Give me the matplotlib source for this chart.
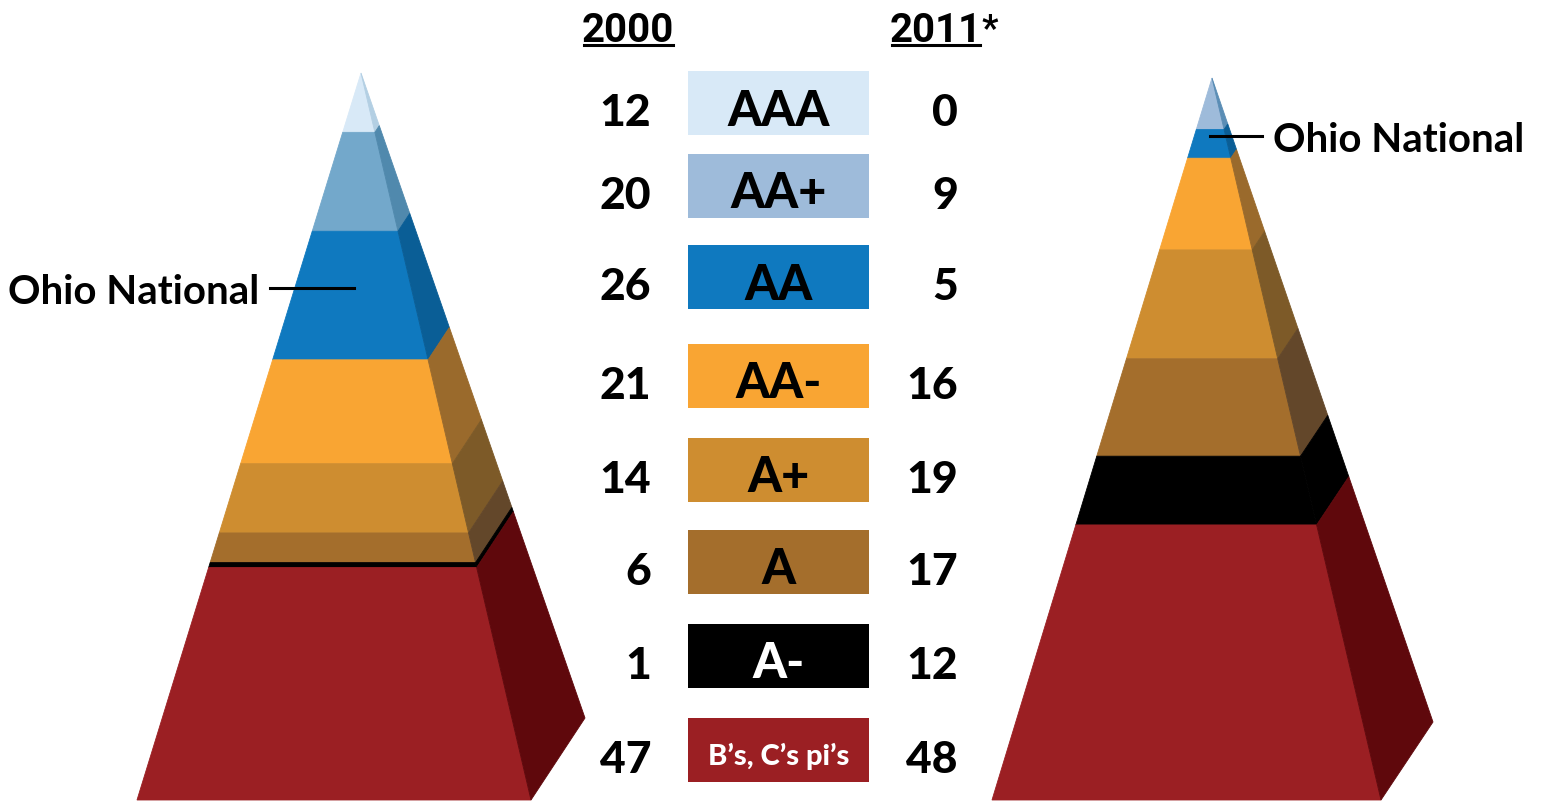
"""
Rating pyramids: distribution of insurer ratings in 2000 vs 2011.
"""

import numpy as np
import matplotlib.pyplot as plt
from matplotlib.patches import Polygon, Rectangle

RATINGS = ["AAA", "AA+", "AA", "AA-", "A+", "A", "A-", "B\u2019s, C\u2019s pi\u2019s"]
COUNTS_2000 = [12, 20, 26, 21, 14, 6, 1, 47]
COUNTS_2011 = [0, 9, 5, 16, 19, 17, 12, 48]

BOX_COLORS = ["#D8E9F7", "#9EBBDA", "#0F79BF", "#F9A533", "#CE8D30", "#A46E2C", "#000000", "#9B1F23"]
FRONT_2000 = ["#D8E9F7", "#73A8CB", "#0F79BF", "#F9A533", "#CE8D30", "#A46E2C", "#000000", "#9B1F23"]
SIDE_2000 = ["#B3CFE3", "#5089AD", "#0A5E96", "#9A6A2C", "#7D5A28", "#63472A", "#000000", "#5F080C"]
FRONT_2011 = ["#D8E9F7", "#9EBBDA", "#0F79BF", "#F9A533", "#CE8D30", "#A46E2C", "#000000", "#9B1F23"]
SIDE_2011 = ["#B3CFE3", "#5A8DB5", "#0A5E96", "#9A6A2C", "#7D5A28", "#63472A", "#000000", "#5F080C"]
LABEL_COLOR = ["black"] * 6 + ["white", "white"]

# layout (pixels)
W, H = 1543, 802
ROW_Y = [103, 186, 277, 376, 470, 562, 656, 750]
BOX_X0, BOX_X1 = 688, 869
BOX_H = 64
FONT = "Lato"


def draw_pyramid(ax, counts, front_colors, side_colors, apex, base_left, base_right, back):
    counts = np.asarray(counts, dtype=float)
    edges = np.concatenate([[0], np.cumsum(counts)]) / counts.sum()
    ax_, ay = apex

    def pt(corner, t):
        return (ax_ + t * (corner[0] - ax_), ay + t * (corner[1] - ay))

    for i in range(len(counts)):
        t0, t1 = edges[i], edges[i + 1]
        if t1 <= t0:
            continue
        front = [pt(base_left, t0), pt(base_right, t0), pt(base_right, t1), pt(base_left, t1)]
        side = [pt(base_right, t0), pt(back, t0), pt(back, t1), pt(base_right, t1)]
        ax.add_patch(Polygon(front, closed=True, fc=front_colors[i], ec=front_colors[i], lw=0.6))
        ax.add_patch(Polygon(side, closed=True, fc=side_colors[i], ec=side_colors[i], lw=0.6))


def main():
    fig = plt.figure(figsize=(W / 100, H / 100), dpi=100)
    ax = fig.add_axes([0, 0, 1, 1])
    ax.set_xlim(0, W)
    ax.set_ylim(H, 0)
    ax.axis("off")

    draw_pyramid(ax, COUNTS_2000, FRONT_2000, SIDE_2000,
                 (361, 73), (137, 800), (531, 800), (585, 718))
    draw_pyramid(ax, COUNTS_2011, FRONT_2011, SIDE_2011,
                 (1212, 78), (992, 800), (1381, 800), (1433, 722))

    # headers
    ax.text(628, 31, "2000", ha="center", va="center", fontsize=29,
            fontweight="bold", family="Roboto")
    ax.plot([584, 673], [45, 45], color="black", lw=2.2)
    ax.text(936, 31, "2011", ha="center", va="center", fontsize=29,
            fontweight="bold", family="Roboto")
    ax.plot([892, 980], [45, 45], color="black", lw=2.2)
    ax.text(981, 30, "*", ha="left", va="center", fontsize=26,
            fontweight="bold", family="Roboto")

    # rating boxes and counts
    for i, name in enumerate(RATINGS):
        y = ROW_Y[i]
        ax.add_patch(Rectangle((BOX_X0, y - BOX_H / 2), BOX_X1 - BOX_X0, BOX_H,
                               fc=BOX_COLORS[i], ec="none"))
        if i == len(RATINGS) - 1:
            ax.text((BOX_X0 + BOX_X1) / 2, y + 6, name, ha="center", va="center",
                    fontsize=21, fontweight=900, color=LABEL_COLOR[i], family=FONT)
        else:
            ax.text((BOX_X0 + BOX_X1) / 2, y + 8, name, ha="center", va="center",
                    fontsize=35, fontweight=900, color=LABEL_COLOR[i], family=FONT)
        ax.text(651, y + 10, str(COUNTS_2000[i]), ha="right", va="center",
                fontsize=32, fontweight=900, family=FONT)
        ax.text(958, y + 10, str(COUNTS_2011[i]), ha="right", va="center",
                fontsize=32, fontweight=900, family=FONT)

    # Ohio National markers
    ax.text(8, 293, "Ohio National", ha="left", va="center", fontsize=29,
            fontweight="bold", family=FONT)
    ax.plot([270, 354], [288, 288], color="black", lw=2.2)
    ax.text(1273, 141, "Ohio National", ha="left", va="center", fontsize=29,
            fontweight="bold", family=FONT)
    ax.plot([1210, 1262], [136, 136], color="black", lw=2.2)

    fig.savefig("out.png", dpi=100)


if __name__ == "__main__":
    main()
